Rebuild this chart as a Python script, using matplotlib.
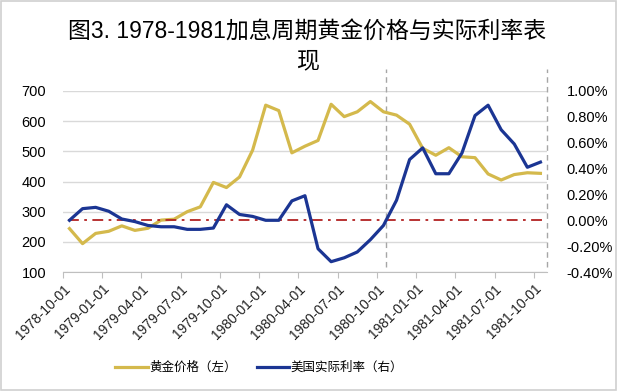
import numpy as np
import matplotlib.pyplot as plt
from matplotlib.patches import Rectangle

plt.rcParams['font.family'] = ['Liberation Sans', 'Noto Sans CJK SC', 'DejaVu Sans']

# monthly data, 1978-10 .. 1981-10
gold = [244, 194, 228, 235, 253, 238, 245, 272, 275, 300, 316, 397, 380,
        415, 504, 653, 635, 495, 517, 536, 656, 615, 631, 665, 631, 620,
        590, 510, 487, 512, 482, 479, 425, 405, 423, 429, 427]
real_rate = [0.00, 0.09, 0.10, 0.07, 0.01, -0.01, -0.04, -0.05, -0.05, -0.07,
             -0.07, -0.06, 0.12, 0.045, 0.03, 0.00, 0.00, 0.15, 0.19, -0.22,
             -0.32, -0.29, -0.245, -0.15, -0.04, 0.155, 0.47, 0.56, 0.36,
             0.36, 0.52, 0.81, 0.89, 0.70, 0.59, 0.41, 0.45]
tick_labels = ['1978-10-01', '1979-01-01', '1979-04-01', '1979-07-01',
               '1979-10-01', '1980-01-01', '1980-04-01', '1980-07-01',
               '1980-10-01', '1981-01-01', '1981-04-01', '1981-07-01',
               '1981-10-01']
title = '图3. 1978-1981加息周期黄金价格与实际利率表\n现'

GOLD = '#D4B94C'
BLUE = '#1B3593'

x = np.arange(len(gold))

fig = plt.figure(figsize=(6.17, 3.91), dpi=100)
ax = fig.add_axes([0.102, 0.3043, 0.7845, 0.463])
ax2 = ax.twinx()

ax.set_ylim(100, 700)
ax.set_yticks(range(100, 701, 100))
ax.grid(axis='y', color='#D9D9D9', lw=1)
ax.set_axisbelow(True)
l1, = ax.plot(x, gold, color=GOLD, lw=2.3, label='黄金价格（左）', zorder=3)

ax2.set_ylim(-0.4, 1.0)
ax2.set_yticks(np.arange(-0.4, 1.01, 0.2))
ax2.set_yticklabels(['%.2f%%' % v for v in np.arange(-0.4, 1.01, 0.2)])
ax2.axhline(0, color='#B22222', lw=1.3, ls=(0, (6, 3, 1.5, 3)), xmin=0.01, xmax=0.99)
l2, = ax2.plot(x, real_rate, color=BLUE, lw=2.3, label='美国实际利率（右）', zorder=4)

ax.set_xlim(-0.5, len(gold) - 0.5)
ax.set_xticks(np.arange(-0.5, len(gold), 3))
ax.set_xticklabels(tick_labels, rotation=45, ha='right', rotation_mode='anchor',
                   fontsize=10, color='#222222')
ax.tick_params(axis='x', length=4, color='#BFBFBF', pad=3)
ax.tick_params(axis='y', length=0, labelsize=10.5, pad=12)
ax2.tick_params(axis='y', length=0, labelsize=10.5, pad=14)

for a in (ax, ax2):
    for side in ('top', 'left', 'right'):
        a.spines[side].set_visible(False)
    a.spines['bottom'].set_color('#BFBFBF')
ax2.spines['bottom'].set_visible(False)

# dashed separators
for xv in (24.2, 36.5):
    ax.plot([xv, xv], [0.03, 1.12], transform=ax.get_xaxis_transform(),
            color='#A6A6A6', lw=1, ls=(0, (4, 3)), clip_on=False, zorder=2)

fig.text(0.4976, 0.882, title, ha='center', va='center', fontsize=16.5,
         linespacing=1.3)

fig.legend(handles=[l1, l2], loc='center', bbox_to_anchor=(0.42, 0.06),
           ncol=2, frameon=False, handlelength=2.6,
           handletextpad=0.1, columnspacing=1.6,
           prop={'family': ['Noto Sans CJK SC'], 'size': 9})

fig.patches.append(Rectangle((0.002, 0.003), 0.996, 0.994, transform=fig.transFigure,
                             fill=False, ec='#D0D0D0', lw=1.2))

fig.savefig('out.png', dpi=100)
